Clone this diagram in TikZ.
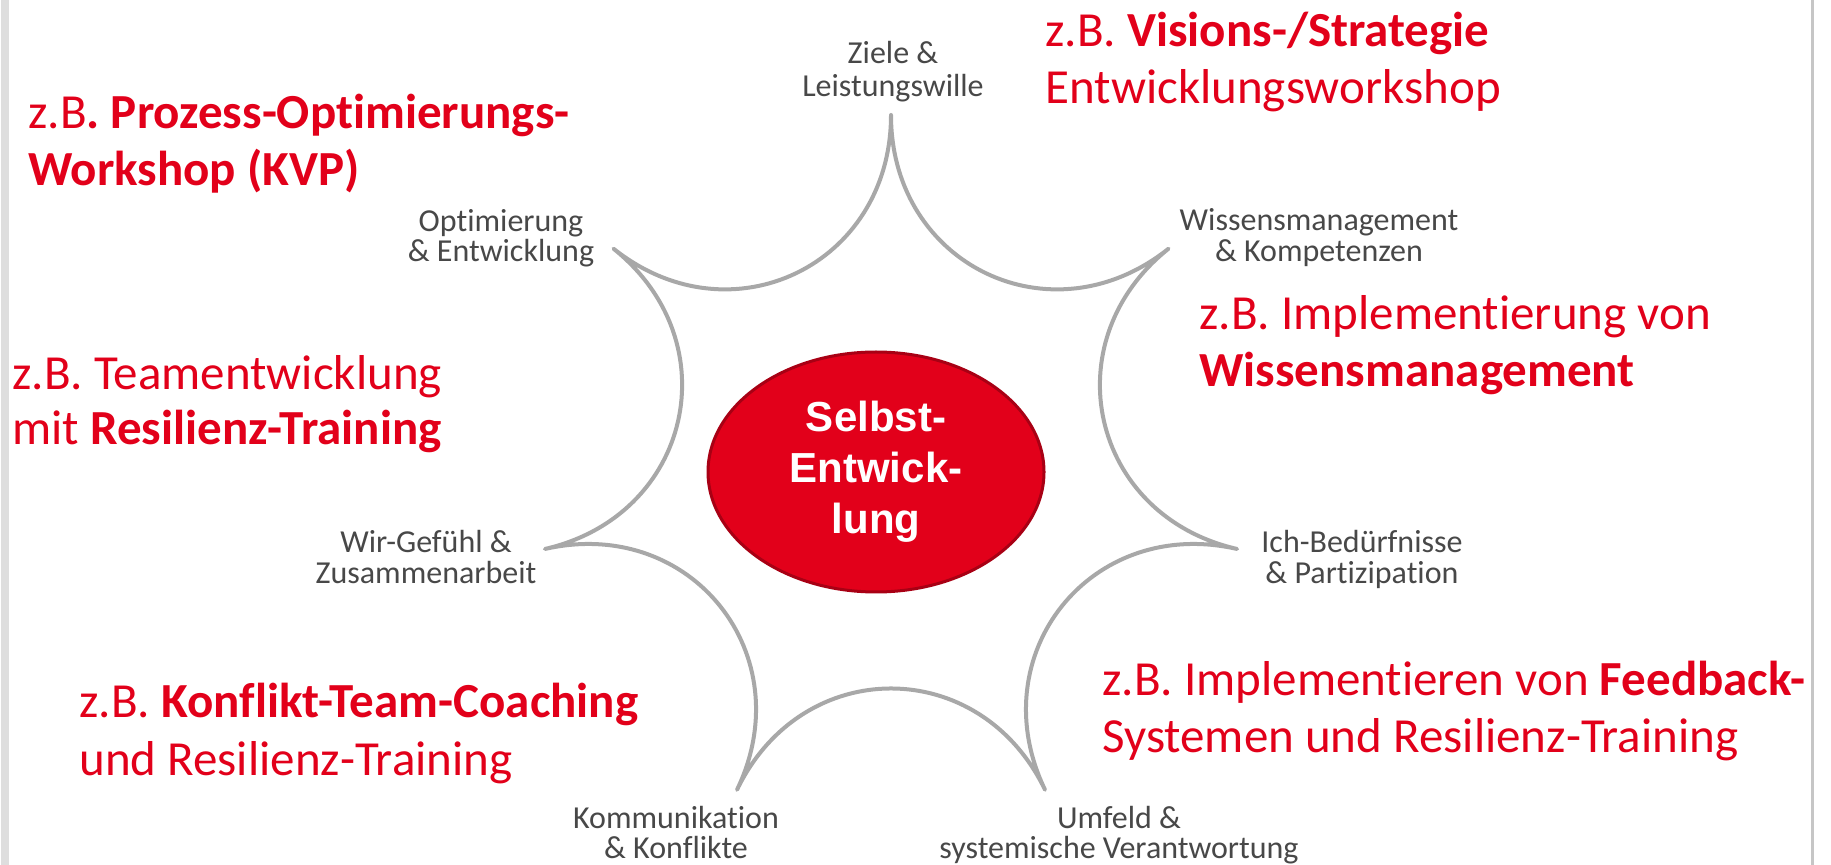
\documentclass[tikz,border=0pt]{standalone}
\usepackage{fontspec}
\setmainfont{Carlito}[Ligatures=NoCommon]
\newfontfamily\arialfont{Liberation Sans}
\usetikzlibrary{calc,shapes.geometric}
\definecolor{brandred}{RGB}{226,0,26}
\definecolor{ellborder}{RGB}{168,0,20}
\definecolor{stargray}{RGB}{168,168,168}
\definecolor{labelgray}{RGB}{72,72,72}
\definecolor{framegray}{RGB}{222,222,222}
\begin{document}
\begin{tikzpicture}[x=0.5pt,y=-0.5pt,
  redtext/.style={anchor=base west, inner sep=0pt, text=brandred, font=\fontsize{24.5}{29}\selectfont},
  lbl/.style={anchor=base, inner sep=0pt, text=labelgray, font=\fontsize{16}{17}\selectfont},
  starline/.style={draw=stargray, line width=2pt, line join=round, line cap=round},
  core/.style={ellipse, fill=brandred, draw=ellborder, line width=1.5pt, minimum width=168pt, minimum height=120pt, inner sep=0pt, align=center, text=white, font=\arialfont\bfseries\fontsize{21}{25.5}\selectfont}
]
\useasboundingbox (0,0) rectangle (1831,865);
\fill[white] (0,0) rectangle (1831,865);
% page frame edges
\draw[framegray, line width=4pt] (5,0) -- (5,865);
\draw[gray!45, line width=1.5pt] (1812,0) -- (1812,865);

% star
\coordinate (c) at (891,470);
\foreach \i in {0,...,6}{
  \path (c) ++({-90+360/7*\i}:355) coordinate (t\i);
  \path (c) ++({-90+360/7*\i}:205) coordinate (k\i);
}
\draw[starline] (t0) .. controls (k0) and (k1) .. (t1)
  .. controls (k1) and (k2) .. (t2)
  .. controls (k2) and (k3) .. (t3)
  .. controls (k3) and (k4) .. (t4)
  .. controls (k4) and (k5) .. (t5)
  .. controls (k5) and (k6) .. (t6)
  .. controls (k6) and (k0) .. (t0);

% centre
\node[core] (core) at (876,472) {Selbst-\\Entwick-\\lung};

% star labels
\node[lbl] (z1) at (893,64) {Ziele \&};
\node[lbl] (z2) at (893,97) {Leistungswille};
\node[lbl] (w1) at (1319,231) {Wissensmanagement};
\node[lbl] (w2) at (1319,262) {\& Kompetenzen};
\node[lbl] (o1) at (501,232) {Optimierung};
\node[lbl] (o2) at (501,262) {\& Entwicklung};
\node[lbl] (g1) at (426,553) {Wir-Gefühl \&};
\node[lbl] (g2) at (426,584) {Zusammenarbeit};
\node[lbl] (i1) at (1362,553) {Ich-Bedürfnisse};
\node[lbl] (i2) at (1362,584) {\& Partizipation};
\node[lbl] (k1l) at (676,828) {Kommunikation};
\node[lbl] (k2l) at (676,858) {\& Konflikte};
\node[lbl] (u1) at (1119,828) {Umfeld \&};
\node[lbl] (u2) at (1119,858) {systemische Verantwortung};

% red examples
\node[redtext] (vis1) at (1045,47) {z.B. \textbf{Visions-/Strategie}};
\node[redtext] (vis2) at (1045,104) {Entwicklungsworkshop};
\node[redtext] (kvp1) at (28,129) {z.B\textbf{. Prozess-Optimierungs-}};
\node[redtext] (kvp2) at (28,186) {\textbf{Workshop (KVP)}};
\node[redtext] (team1) at (12,390) {z.B. Teamentwicklung};
\node[redtext] (team2) at (12,445) {mit \textbf{Resilienz-Training}};
\node[redtext] (wm1) at (1199,330) {z.B. Implementierung von};
\node[redtext] (wm2) at (1199,387) {\textbf{Wissensmanagement}};
\node[redtext] (kon1) at (79,717) {z.B. \textbf{Konflikt-Team-Coaching}};
\node[redtext] (kon2) at (79,775) {und Resilienz-Training};
\node[redtext] (fb1) at (1102,695) {z.B. Implementieren von \textbf{Feedback-}};
\node[redtext] (fb2) at (1102,752) {Systemen und Resilienz-Training};
\end{tikzpicture}
\end{document}
